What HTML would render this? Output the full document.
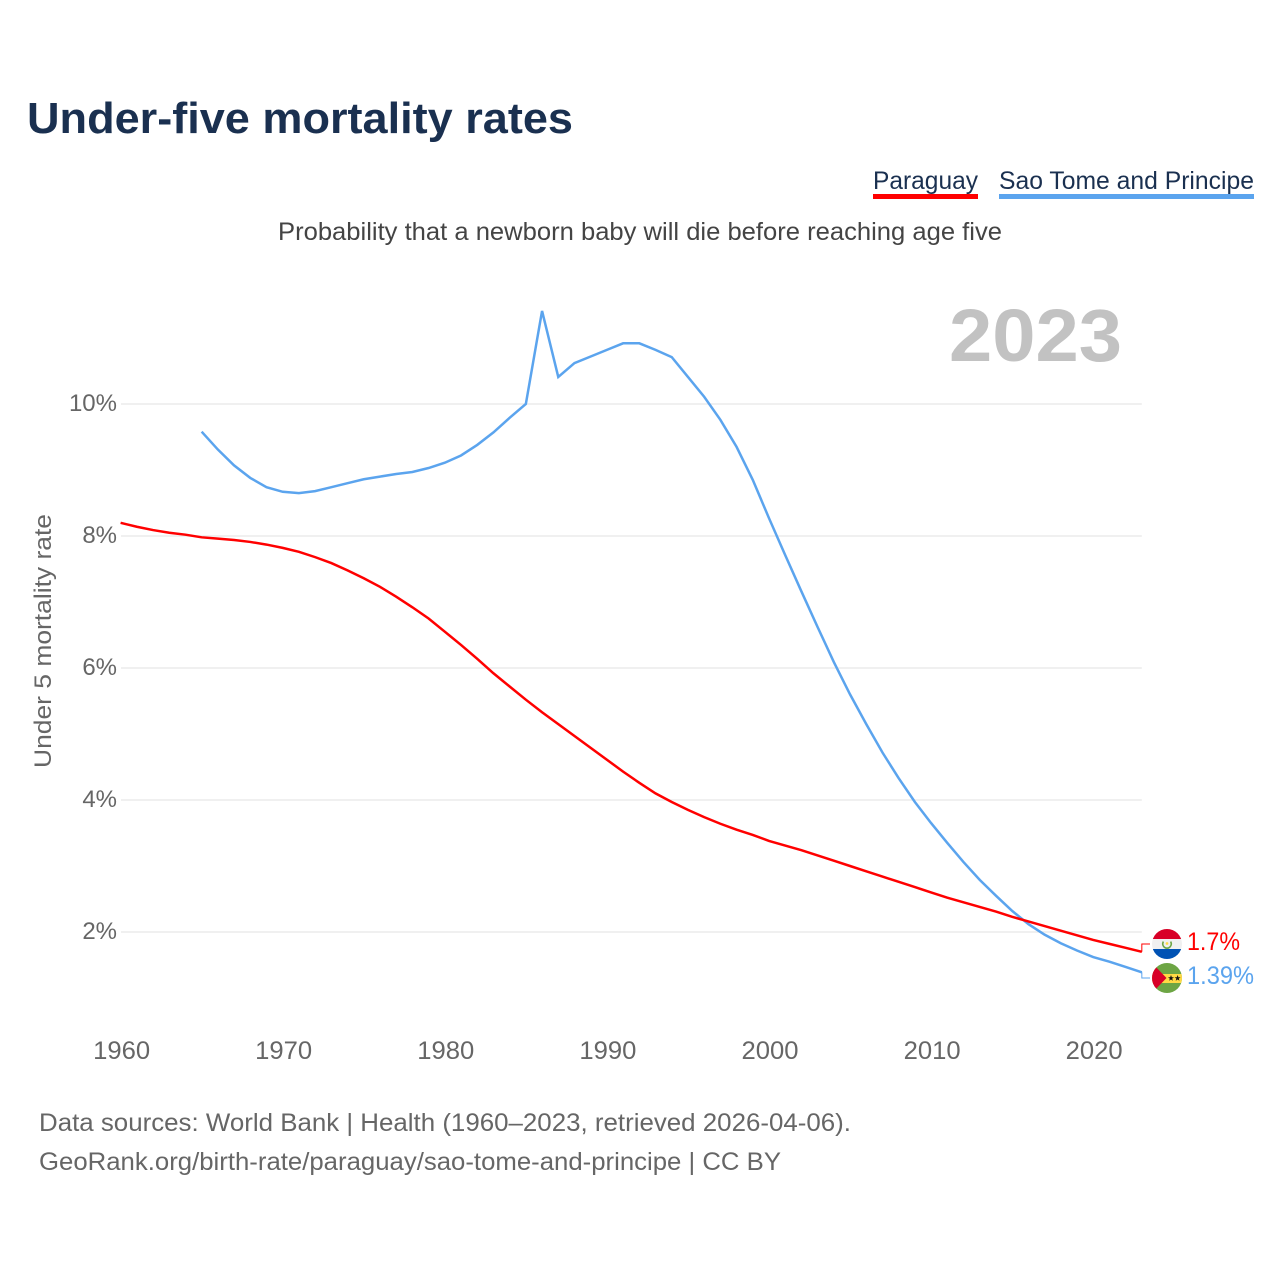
<!DOCTYPE html>
<html lang="en">
<head>
<meta charset="utf-8">
<title>Under-five mortality rates</title>
<style>
html,body{margin:0;padding:0;background:#fff;width:1280px;height:1280px;overflow:hidden}
svg{display:block}
text{font-family:"Liberation Sans",sans-serif}
</style>
</head>
<body>
<svg id="chart" width="1280" height="1280" viewBox="0 0 1280 1280" xmlns="http://www.w3.org/2000/svg">
  <defs>
    <clipPath id="py-clip"><circle cx="1167" cy="944" r="15"/></clipPath>
    <clipPath id="st-clip"><circle cx="1167" cy="978" r="15"/></clipPath>
  </defs>
  <rect width="1280" height="1280" fill="#fff"/>
  <text x="27" y="133" font-size="44" font-weight="700" fill="#1a3050" textLength="546" lengthAdjust="spacingAndGlyphs">Under-five mortality rates</text>

  <g>
    <text x="873" y="189" font-size="25" fill="#1a3050" textLength="105" lengthAdjust="spacingAndGlyphs">Paraguay</text>
    <rect x="873" y="194" width="105" height="5" fill="#ff0000"/>
  </g>
  <g>
    <text x="999" y="189" font-size="25" fill="#1a3050" textLength="255" lengthAdjust="spacingAndGlyphs">Sao Tome and Principe</text>
    <rect x="999" y="194" width="255" height="5" fill="#5ba4ee"/>
  </g>

  <text x="278" y="240" font-size="25" fill="#444" textLength="724" lengthAdjust="spacingAndGlyphs">Probability that a newborn baby will die before reaching age five</text>
  <text x="949" y="361" font-size="74" font-weight="700" fill="#c2c2c2" textLength="173" lengthAdjust="spacingAndGlyphs">2023</text>
  <text transform="translate(51,768) rotate(-90)" x="0" y="0" font-size="24" fill="#666" textLength="254" lengthAdjust="spacingAndGlyphs">Under 5 mortality rate</text>

  <g id="grid"></g>
  <g id="yticks"></g>
  <g id="xticks"></g>
  <g id="series"></g>

  <g clip-path="url(#py-clip)">
    <rect x="1152" y="929" width="30" height="30" fill="#f0f0f0"/>
    <rect x="1152" y="929" width="30" height="10" fill="#d80027"/>
    <rect x="1152" y="949" width="30" height="10" fill="#0052b4"/>
    <path d="M1163.4 941.5A4.3 4.3 0 1 0 1170.6 941.5" fill="none" stroke="#6da544" stroke-width="1.6"/>
    <circle cx="1167" cy="943.5" r="1.4" fill="#ffda44"/>
  </g>
  <g clip-path="url(#st-clip)">
    <rect x="1152" y="963" width="30" height="30" fill="#6da544"/>
    <rect x="1152" y="974" width="30" height="9" fill="#ffda44"/>
    <polygon points="1152,963 1166.5,978 1152,993" fill="#d80027"/>
    <polygon points="1171,975 1171.8,977.2 1174,977.2 1172.2,978.6 1172.9,980.8 1171,979.5 1169.1,980.8 1169.8,978.6 1168,977.2 1170.2,977.2" fill="#111"/>
    <polygon points="1177.6,975 1178.4,977.2 1180.6,977.2 1178.8,978.6 1179.5,980.8 1177.6,979.5 1175.7,980.8 1176.4,978.6 1174.6,977.2 1176.8,977.2" fill="#111"/>
  </g>

  <text id="label-py" x="1187" y="950" font-size="25" fill="#ff0000" textLength="53" lengthAdjust="spacingAndGlyphs"></text>
  <text id="label-st" x="1187" y="984" font-size="25" fill="#5ba4ee" textLength="67" lengthAdjust="spacingAndGlyphs"></text>

  <text x="39" y="1131" font-size="25" fill="#666" textLength="812" lengthAdjust="spacingAndGlyphs">Data sources: World Bank | Health (1960–2023, retrieved 2026-04-06).</text>
  <text x="39" y="1170" font-size="25" fill="#666" textLength="742" lengthAdjust="spacingAndGlyphs">GeoRank.org/birth-rate/paraguay/sao-tome-and-principe | CC BY</text>
</svg>
<script>
const xTickYears = [1960, 1970, 1980, 1990, 2000, 2010, 2020];
const yTickValues = [2, 4, 6, 8, 10];
const paraguayStartYear = 1960;
const paraguayValues = [8.2, 8.14, 8.09, 8.05, 8.02, 7.98, 7.96, 7.94, 7.91, 7.87, 7.82, 7.76, 7.68, 7.59, 7.48, 7.36, 7.23, 7.08, 6.92, 6.75, 6.55, 6.35, 6.14, 5.92, 5.72, 5.52, 5.33, 5.15, 4.97, 4.79, 4.61, 4.43, 4.26, 4.1, 3.97, 3.85, 3.74, 3.64, 3.55, 3.47, 3.38, 3.31, 3.24, 3.16, 3.08, 3.0, 2.92, 2.84, 2.76, 2.68, 2.6, 2.52, 2.45, 2.38, 2.31, 2.23, 2.16, 2.09, 2.02, 1.95, 1.88, 1.82, 1.76, 1.7];
const saoTomeStartYear = 1965;
const saoTomeValues = [9.58, 9.31, 9.07, 8.88, 8.74, 8.67, 8.65, 8.68, 8.74, 8.8, 8.86, 8.9, 8.94, 8.97, 9.03, 9.11, 9.22, 9.38, 9.57, 9.79, 10.0, 11.41, 10.41, 10.62, 10.72, 10.82, 10.92, 10.92, 10.82, 10.71, 10.41, 10.11, 9.76, 9.35, 8.85, 8.27, 7.71, 7.16, 6.62, 6.09, 5.6, 5.15, 4.72, 4.33, 3.97, 3.65, 3.35, 3.06, 2.79, 2.55, 2.32, 2.12, 1.96, 1.83, 1.72, 1.62, 1.55, 1.47, 1.39];
const endLabelParaguay = "1.7%";
const endLabelSaoTome = "1.39%";

const svgNS = "http://www.w3.org/2000/svg";
const xScale = year => 120.6 + (year - 1960) * 16.21;
const yScale = value => 932 - (value - 2) * (932 - 404) / 8;
const gridRight = xScale(2023);

const grid = document.getElementById('grid');
const yticks = document.getElementById('yticks');
const xticks = document.getElementById('xticks');
const series = document.getElementById('series');

yTickValues.forEach(v => {
  const line = document.createElementNS(svgNS, 'line');
  
  
  line.setAttribute('x1', 121);
  line.setAttribute('x2', gridRight);
  line.setAttribute('y1', yScale(v));
  line.setAttribute('y2', yScale(v));
  line.setAttribute('stroke', '#ebebeb');
  line.setAttribute('stroke-width', '1.5');
  grid.appendChild(line);

  const label = document.createElementNS(svgNS, 'text');
  
  
  label.setAttribute('x', 117);
  label.setAttribute('y', yScale(v) + 7);
  label.setAttribute('text-anchor', 'end');
  label.setAttribute('font-size', '24');
  label.setAttribute('fill', '#666');
  label.textContent = v + '%';
  yticks.appendChild(label);
});

xTickYears.forEach(y => {
  const label = document.createElementNS(svgNS, 'text');
  
  
  label.setAttribute('x', xScale(y) + 1);
  label.setAttribute('y', 1059);
  label.setAttribute('text-anchor', 'middle');
  label.setAttribute('font-size', '25');
  label.setAttribute('fill', '#666');
  label.setAttribute('textLength', '57');
  label.setAttribute('lengthAdjust', 'spacingAndGlyphs');
  label.textContent = y;
  xticks.appendChild(label);
});

function linePoints(startYear, values) {
  return values.map((v, i) => xScale(startYear + i).toFixed(2) + ',' + yScale(v).toFixed(2)).join(' ');
}

const saoTomeLine = document.createElementNS(svgNS, 'polyline');


saoTomeLine.setAttribute('points', linePoints(saoTomeStartYear, saoTomeValues));
saoTomeLine.setAttribute('fill', 'none');
saoTomeLine.setAttribute('stroke', '#5ba4ee');
saoTomeLine.setAttribute('stroke-width', '2.5');
series.appendChild(saoTomeLine);

const paraguayLine = document.createElementNS(svgNS, 'polyline');


paraguayLine.setAttribute('points', linePoints(paraguayStartYear, paraguayValues));
paraguayLine.setAttribute('fill', 'none');
paraguayLine.setAttribute('stroke', '#ff0000');
paraguayLine.setAttribute('stroke-width', '2.5');
series.appendChild(paraguayLine);

const pyEnd = yScale(paraguayValues[paraguayValues.length - 1]);
const pyConnector = document.createElementNS(svgNS, 'path');


pyConnector.setAttribute('d', 'M' + gridRight + ' ' + pyEnd + 'V944H1150');
pyConnector.setAttribute('fill', 'none');
pyConnector.setAttribute('stroke', '#ff0000');
pyConnector.setAttribute('stroke-width', '1');
series.appendChild(pyConnector);

const stEnd = yScale(saoTomeValues[saoTomeValues.length - 1]);
const stConnector = document.createElementNS(svgNS, 'path');


stConnector.setAttribute('d', 'M' + gridRight + ' ' + stEnd + 'V978H1150');
stConnector.setAttribute('fill', 'none');
stConnector.setAttribute('stroke', '#5ba4ee');
stConnector.setAttribute('stroke-width', '1');
series.appendChild(stConnector);

document.getElementById('label-py').textContent = endLabelParaguay;
document.getElementById('label-st').textContent = endLabelSaoTome;
</script>
</body>
</html>
